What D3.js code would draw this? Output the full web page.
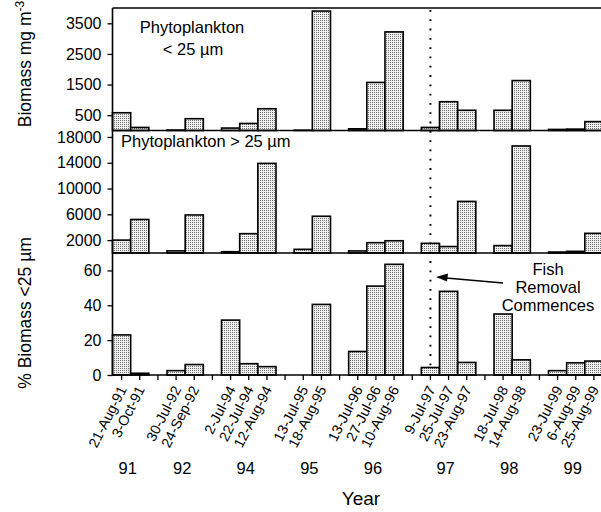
<!DOCTYPE html>
<html>
<head>
<meta charset="utf-8">
<script src="https://cdn.jsdelivr.net/npm/d3@7"></script>
<style>
  body { margin: 0; background: #fff; }
  svg { display: block; font-family: "Liberation Sans", Arial, sans-serif; }
</style>
</head>
<body>
<svg class="chart" width="601" height="512"></svg>
<script>
// Sampling dates, in plot order ('' marks the empty slot between years)
const dates = [
  '21-Aug-91', '3-Oct-91', '',
  '30-Jul-92', '24-Sep-92', '',
  '2-Jul-94', '22-Jul-94', '12-Aug-94', '',
  '13-Jul-95', '18-Aug-95', '',
  '13-Jul-96', '27-Jul-96', '10-Aug-96', '',
  '9-Jul-97', '25-Jul-97', '23-Aug-97', '',
  '18-Jul-98', '14-Aug-98', '',
  '23-Jul-99', '6-Aug-99', '25-Aug-99'
]

// Biomass mg m-3, phytoplankton < 25 um
const small = [
  580, 100, null,
  15, 385, null,
  80, 230, 710, null,
  10, 3900, null,
  55, 1570, 3220, null,
  100, 940, 660, null,
  660, 1630, null,
  35, 45, 290
]

// Biomass mg m-3, phytoplankton > 25 um
const large = [
  2000, 5200, null,
  330, 5900, null,
  200, 3000, 13900, null,
  570, 5700, null,
  320, 1600, 1900, null,
  1500, 1000, 8000, null,
  1150, 16600, null,
  150, 260, 3050
]

// % biomass < 25 um
const percent = [
  23, 1, null,
  2.5, 6, null,
  31.5, 6.5, 4.8, null,
  0, 40.5, null,
  13.5, 51, 63.5, null,
  4.3, 48, 7.2, null,
  35, 8.7, null,
  2.5, 7, 8
]

const years = ['91', '92', '94', '95', '96', '97', '98', '99']
const yearSlots = [[0, 1], [3, 4], [6, 7, 8], [10, 11], [13, 14, 15], [17, 18, 19], [21, 22], [24, 25, 26]]

const smallTicks = [500, 1500, 2500, 3500]
const largeTicks = [2000, 6000, 10000, 14000, 18000]
const percentTicks = [0, 20, 40, 60]

const fishRemoval = '9-Jul-97'

const svg = d3.select('svg.chart')

// stipple fill
const pat = svg.append('defs').append('pattern')
  .attr('id', 'stipple')
  .attr('patternUnits', 'userSpaceOnUse')
  .attr('width', 2).attr('height', 2)
pat.append('rect').attr('width', 2).attr('height', 2).attr('fill', '#f0f0f0')
pat.append('rect').attr('width', 1).attr('height', 1).attr('fill', '#707070')

const left = 112.5
const right = 603

const x = d3.scaleBand()
  .domain(d3.range(dates.length))
  .range([left, right])

const panels = [
  { values: small, y: d3.scaleLinear().domain([0, 4000]).range([130.5, 8]), ticks: smallTicks },
  { values: large, y: d3.scaleLinear().domain([0, 19000]).range([253, 130.5]), ticks: largeTicks },
  { values: percent, y: d3.scaleLinear().domain([0, 70]).range([375, 253]), ticks: percentTicks }
]

panels.forEach(p => {
  const g = svg.append('g')

  g.selectAll('rect')
      .data(p.values.map((v, i) => ({ v, i })).filter(d => d.v !== null))
    .enter().append('rect')
      .attr('x', d => x(d.i))
      .attr('width', x.bandwidth())
      .attr('y', d => p.y(d.v))
      .attr('height', d => p.y(0) - p.y(d.v))
      .attr('fill', 'url(#stipple)')
      .attr('stroke', '#000')
      .attr('stroke-width', 1.6)

  const axis = g.append('g')
    .attr('transform', `translate(${left},0)`)
    .call(d3.axisLeft(p.y).tickValues(p.ticks).tickSize(5).tickPadding(6).tickFormat(d3.format('d')))
  axis.select('.domain').remove()
  axis.selectAll('line').attr('stroke-width', 1.3)
  axis.selectAll('text').attr('font-size', 16).attr('fill', '#000')

  // baseline of the panel
  g.append('line')
    .attr('x1', left).attr('x2', 601)
    .attr('y1', p.y(0)).attr('y2', p.y(0))
    .attr('stroke', '#000').attr('stroke-width', 1.6)
})

// frame: top line and left line
svg.append('line')
  .attr('x1', left).attr('x2', 601).attr('y1', 8).attr('y2', 8)
  .attr('stroke', '#000').attr('stroke-width', 1.6)
svg.append('line')
  .attr('x1', left).attr('x2', left).attr('y1', 8).attr('y2', 375)
  .attr('stroke', '#000').attr('stroke-width', 1.6)

// date axis
const xAxis = svg.append('g')
  .attr('transform', 'translate(0,375)')
  .call(d3.axisBottom(x).tickSize(5).tickFormat(''))
xAxis.select('.domain').remove()
xAxis.selectAll('line').attr('stroke-width', 1.3)

svg.append('g')
  .selectAll('text')
    .data(dates.map((d, i) => ({ d, i })).filter(d => d.d))
  .enter().append('text')
    .attr('transform', d => `translate(${x(d.i) + x.bandwidth() / 2 + 1},387) rotate(-63)`)
    .attr('text-anchor', 'end')
    .attr('dy', '0.35em')
    .attr('font-size', 14.3)
    .text(d => d.d)

svg.append('g')
  .selectAll('text')
    .data(years)
  .enter().append('text')
    .attr('x', (d, i) => d3.mean(yearSlots[i], s => x(s) + x.bandwidth() / 2) - 3)
    .attr('y', 474)
    .attr('text-anchor', 'middle')
    .attr('font-size', 16.5)
    .text(d => d)

svg.append('text')
  .attr('x', 361).attr('y', 505)
  .attr('text-anchor', 'middle')
  .attr('font-size', 19)
  .text('Year')

// y titles
const t1 = svg.append('text')
  .attr('transform', 'translate(31,64) rotate(-90)')
  .attr('text-anchor', 'middle')
  .attr('font-size', 17.5)
t1.append('tspan').text('Biomass mg m')
t1.append('tspan').attr('dy', -7).attr('font-size', 12).text('-3')

svg.append('text')
  .attr('transform', 'translate(31,313) rotate(-90)')
  .attr('text-anchor', 'middle')
  .attr('font-size', 17.5)
  .text('% Biomass <25 µm')

// panel labels
svg.append('text')
  .attr('x', 192).attr('y', 33)
  .attr('text-anchor', 'middle')
  .attr('font-size', 16.5)
  .text('Phytoplankton')
svg.append('text')
  .attr('x', 193).attr('y', 55)
  .attr('text-anchor', 'middle')
  .attr('font-size', 16.5)
  .text('< 25 µm')
svg.append('text')
  .attr('x', 121).attr('y', 147)
  .attr('font-size', 16.5)
  .text('Phytoplankton > 25 µm')

// fish removal marker
const fx = x(dates.indexOf(fishRemoval)) + x.bandwidth() / 2
svg.append('line')
  .attr('x1', fx).attr('x2', fx)
  .attr('y1', 10).attr('y2', 372)
  .attr('stroke', '#000').attr('stroke-width', 2)
  .attr('stroke-dasharray', '1.8 7.5')

svg.append('line')
  .attr('x1', 503).attr('y1', 283)
  .attr('x2', 446).attr('y2', 278)
  .attr('stroke', '#000').attr('stroke-width', 1.5)
svg.append('path')
  .attr('d', 'M436,277 L448,273.5 L447,281.5 Z')
  .attr('fill', '#000')

const note = svg.append('text')
  .attr('text-anchor', 'middle')
  .attr('font-size', 16.5)
;['Fish', 'Removal', 'Commences'].forEach((s, i) => {
  note.append('tspan').attr('x', 548).attr('y', 275 + i * 18).text(s)
})
</script>
</body>
</html>
